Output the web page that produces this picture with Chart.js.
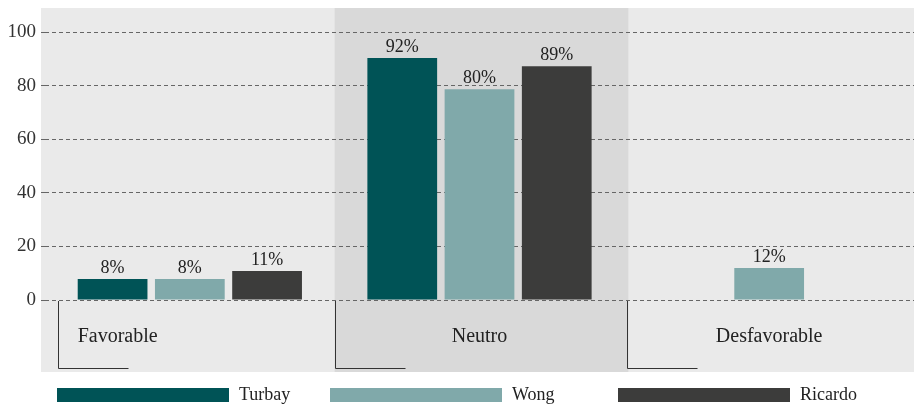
<!DOCTYPE html>
<html>
<head>
<meta charset="utf-8">
<script src="https://cdn.jsdelivr.net/npm/chart.js@4"></script>
<style>
  html, body { margin: 0; padding: 0; background: #fff; }
</style>
</head>
<body>
<canvas id="chart" width="914" height="407"></canvas>
<script>
// ---- data ----
const categories = ['Favorable', 'Neutro', 'Desfavorable'];
const seriesNames = ['Turbay', 'Wong', 'Ricardo'];
const turbayValues = [7.8, 90.3, null];
const wongValues = [7.8, 78.7, 11.9];
const ricardoValues = [10.8, 87.3, null];
const turbayLabels = ['8%', '92%', ''];
const wongLabels = ['8%', '80%', '12%'];
const ricardoLabels = ['11%', '89%', ''];
const yTicks = [0, 20, 40, 60, 80, 100];

// ---- styles ----
const colors = ['#005356', '#80a9aa', '#3c3c3b'];
const serif = "'Liberation Serif', 'DejaVu Serif', serif";
const bracketInset = [13, 0, 3];
const legendX = [57, 330, 618];

function bracketPositions(chart) {
    const x = chart.scales.x;
    const w = (x.right - x.left) / categories.length;
    return categories.map((c, i) => x.left + i * w + bracketInset[i]);
}

const backgroundPlugin = {
    id: 'bg',
    beforeDraw(chart) {
        const { ctx, chartArea } = chart;
        const b = bracketPositions(chart);
        const bottom = chartArea.bottom + 72;
        ctx.save();
        ctx.fillStyle = '#fff';
        ctx.fillRect(0, 0, chart.width, chart.height);
        ctx.fillStyle = '#eaeaea';
        ctx.fillRect(chartArea.left - 4, chartArea.top, chart.width, bottom - chartArea.top);
        ctx.fillStyle = '#d9d9d9';
        ctx.fillRect(b[1], chartArea.top, b[2] - b[1] + 1, bottom - chartArea.top);
        ctx.restore();
    }
};

const decorPlugin = {
    id: 'decor',
    afterDatasetsDraw(chart) {
        const { ctx, chartArea } = chart;
        const labelSets = [turbayLabels, wongLabels, ricardoLabels];
        ctx.save();

        // value labels above bars
        ctx.fillStyle = '#222';
        ctx.font = '18px ' + serif;
        ctx.textAlign = 'center';
        ctx.textBaseline = 'alphabetic';
        chart.data.datasets.forEach((ds, di) => {
            chart.getDatasetMeta(di).data.forEach((el, i) => {
                if (ds.data[i] == null || !labelSets[di][i]) return;
                ctx.fillText(labelSets[di][i], el.x, el.y - 6);
            });
        });

        // category brackets
        const b = bracketPositions(chart);
        ctx.strokeStyle = '#333';
        ctx.lineWidth = 1;
        b.forEach(x => {
            const px = Math.round(x) + 0.5;
            ctx.beginPath();
            ctx.moveTo(px, chartArea.bottom + 1);
            ctx.lineTo(px, chartArea.bottom + 68.5);
            ctx.lineTo(px + 70, chartArea.bottom + 68.5);
            ctx.stroke();
        });

        // category labels
        ctx.font = '20px ' + serif;
        const first = chart.getDatasetMeta(0).data[0];
        categories.forEach((c, i) => {
            if (i === 0) {
                ctx.textAlign = 'left';
                ctx.fillText(c, first.x - first.width / 2, chartArea.bottom + 42);
            } else {
                ctx.textAlign = 'center';
                ctx.fillText(c, chart.scales.x.getPixelForValue(i), chartArea.bottom + 42);
            }
        });

        // legend
        ctx.font = '18px ' + serif;
        ctx.textAlign = 'left';
        seriesNames.forEach((name, i) => {
            ctx.fillStyle = colors[i];
            ctx.fillRect(legendX[i], 388, 172, 14);
            ctx.fillStyle = '#222';
            ctx.fillText(name, legendX[i] + 182, 400);
        });
        ctx.restore();
    }
};

new Chart(document.getElementById('chart'), {
    type: 'bar',
    data: {
        labels: categories,
        datasets: [
            { label: seriesNames[0], data: turbayValues, backgroundColor: colors[0] },
            { label: seriesNames[1], data: wongValues, backgroundColor: colors[1] },
            { label: seriesNames[2], data: ricardoValues, backgroundColor: colors[2] }
        ]
    },
    options: {
        responsive: false,
        animation: false,
        categoryPercentage: 0.8,
        barPercentage: 0.903,
        layout: { padding: { top: 8, bottom: 35, left: 0, right: 0 } },
        plugins: {
            legend: { display: false },
            tooltip: { enabled: false }
        },
        scales: {
            x: {
                grid: { display: false },
                border: { display: false },
                ticks: { display: false },
                afterFit: s => { s.height = 72; }
            },
            y: {
                min: 0, max: 109,
                afterBuildTicks: s => { s.ticks = yTicks.map(v => ({ value: v })); },
                afterFit: s => { s.width = 45; s.paddingTop = 0; s.paddingBottom = 0; },
                grid: { color: '#666', lineWidth: 1, tickLength: 4, drawTicks: true },
                border: { display: false, dash: [4, 3] },
                ticks: { padding: 5, color: '#333', font: { family: serif, size: 19 } }
            }
        }
    },
    plugins: [backgroundPlugin, decorPlugin]
});
</script>
</body>
</html>
